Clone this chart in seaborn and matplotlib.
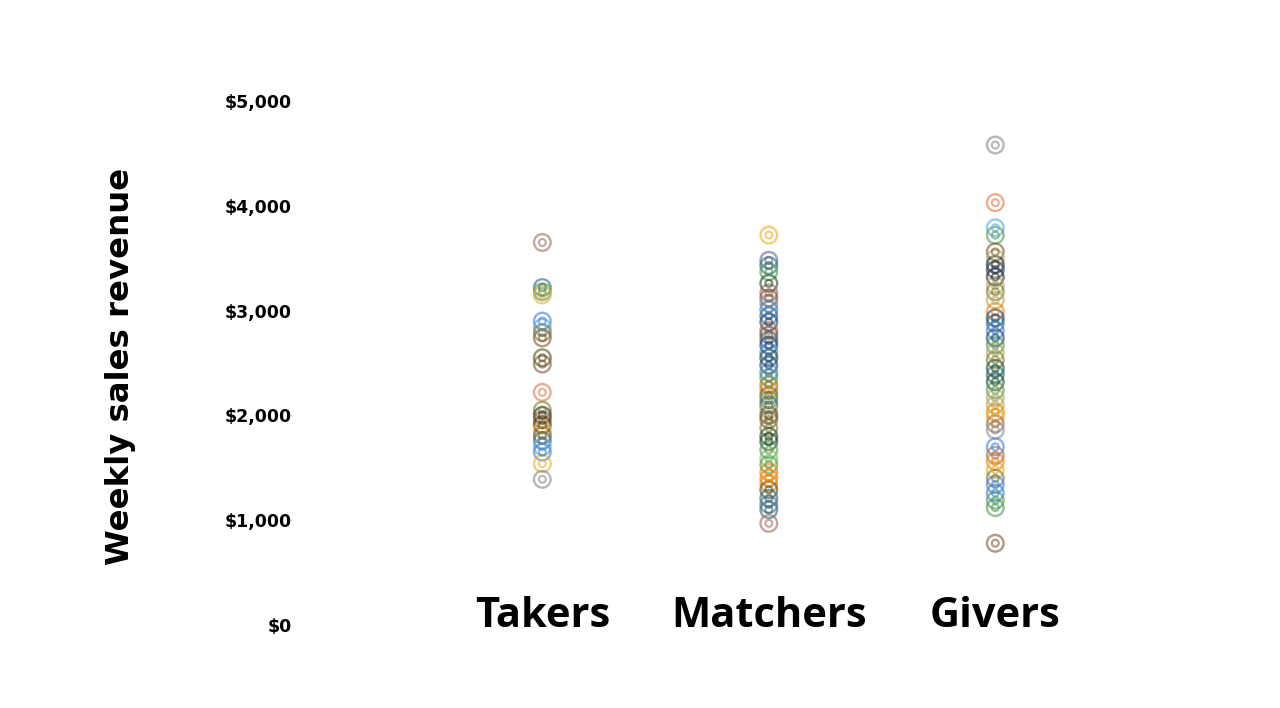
import pandas as pd
import matplotlib
matplotlib.use("Agg")
import matplotlib.pyplot as plt
from matplotlib.colors import to_rgba
import seaborn as sns

groups = ["Takers", "Matchers", "Givers"]

takers = [3650, 3220, 3180, 3150, 2900, 2840, 2790, 2740, 2550, 2490, 2220,
          2050, 2000, 1960, 1910, 1860, 1810, 1760, 1700, 1650, 1540, 1390]
takers_shade = ["mauve", "teal", "green", "gold", "blue", "lightblue", "olive", "brown",
                "darkolive", "brown", "salmon", "olive", "dark", "brown", "darkbrown",
                "gold", "brown", "teal", "lightblue", "blue", "gold", "grey"]

matchers = [3720, 3480, 3430, 3370, 3260, 3170, 3120, 3070, 3010, 2950, 2890, 2810,
            2770, 2720, 2670, 2600, 2550, 2480, 2410, 2360, 2290, 2240, 2190, 2150,
            2100, 2050, 2000, 1960, 1880, 1800, 1750, 1670, 1590, 1530, 1460, 1400,
            1350, 1290, 1210, 1150, 1100, 970]
matchers_shade = ["gold", "slate", "teal", "green", "darkgreen", "mauve", "brown", "grey",
                  "blue", "teal", "navy", "mauve", "brown", "teal", "navy", "blue",
                  "darkgreen", "navy", "blue", "green", "olive", "orange", "brown", "green",
                  "teal", "khaki", "darkolive", "brown", "olive", "darkgreen", "darkgreen",
                  "green", "lightgreen", "green", "orange", "orange", "orange", "darkolive",
                  "teal", "slate", "teal", "mauve"]

givers = [4580, 4030, 3790, 3720, 3560, 3500, 3440, 3390, 3320, 3240, 3180, 3100,
          2990, 2930, 2880, 2810, 2740, 2670, 2600, 2530, 2450, 2390, 2320, 2240,
          2170, 2100, 2030, 1980, 1920, 1860, 1700, 1620, 1560, 1480, 1400, 1340,
          1260, 1190, 1120, 780]
givers_shade = ["grey", "salmon", "lightblue", "green", "brown", "khaki", "dark", "navy",
                "dark", "khaki", "olive", "khaki", "orange", "navy", "teal", "blue",
                "navy", "green", "khaki", "olive", "darkgreen", "teal", "darkgreen", "green",
                "khaki", "khaki", "orange", "gold", "mauve", "grey", "blue", "mauve",
                "orange", "gold", "olive", "blue", "blue", "green", "green", "brown"]

shades = {
    "grey": "#8a8a8a", "salmon": "#e0784a", "brown": "#805530", "darkbrown": "#503208",
    "blue": "#3a80e0", "lightblue": "#5aa8e0", "green": "#4a9a50", "lightgreen": "#88c060",
    "darkgreen": "#1e4a26", "olive": "#807a28", "darkolive": "#4e5018", "gold": "#e8b020",
    "orange": "#f08000", "teal": "#2a6a80", "navy": "#1e3e70", "dark": "#282828",
    "khaki": "#b0a860", "mauve": "#a06a60", "slate": "#5a6a88",
}

df = pd.DataFrame({
    "group": ["Takers"] * len(takers) + ["Matchers"] * len(matchers) + ["Givers"] * len(givers),
    "revenue": takers + matchers + givers,
    "shade": takers_shade + matchers_shade + givers_shade,
})

sns.set_style("white")
plt.rcParams["font.family"] = ["DejaVu Sans"]
plt.rcParams["text.color"] = "black"

fig = plt.figure(figsize=(12.8, 7.08), dpi=100)
ax = fig.add_axes([300 / 1280, 83 / 708, 881 / 1280, 524 / 708])

# outer ring, then inner ring
sns.stripplot(data=df, x="group", y="revenue", hue="shade", palette=shades, order=groups,
              jitter=False, size=12.0, linewidth=1.7, legend=False, ax=ax)
sns.stripplot(data=df, x="group", y="revenue", hue="shade", palette=shades, order=groups,
              jitter=False, size=5.0, linewidth=1.5, legend=False, ax=ax)

for coll in ax.collections:
    fc = coll.get_facecolors()
    ec = [to_rgba(c[:3], 0.6) for c in fc]
    coll.set_edgecolors(ec)
    coll.set_facecolors("none")

ax.set_xlim(-1.07, 2.82)
ax.set_ylim(0, 5000)
ax.set_yticks([0, 1000, 2000, 3000, 4000, 5000])
ax.set_yticklabels(["$0", "$1,000", "$2,000", "$3,000", "$4,000", "$5,000"],
                   fontsize=12.5, fontweight="bold", color="black")
ax.set_xticks([0, 1, 2])
ax.set_xticklabels(groups, fontsize=30, fontweight="bold", color="black",
                   family=["Open Sans", "DejaVu Sans"])
ax.tick_params(axis="y", length=0, pad=6)
ax.tick_params(axis="x", length=0, pad=-21)
for s in ax.spines.values():
    s.set_visible(False)

ax.set_xlabel("")
ax.set_ylabel("Weekly sales revenue", fontsize=23.3, fontweight="bold", color="black")
ax.yaxis.set_label_coords(-0.186, 0.493)

fig.savefig("out.png", dpi=100, facecolor="white")
